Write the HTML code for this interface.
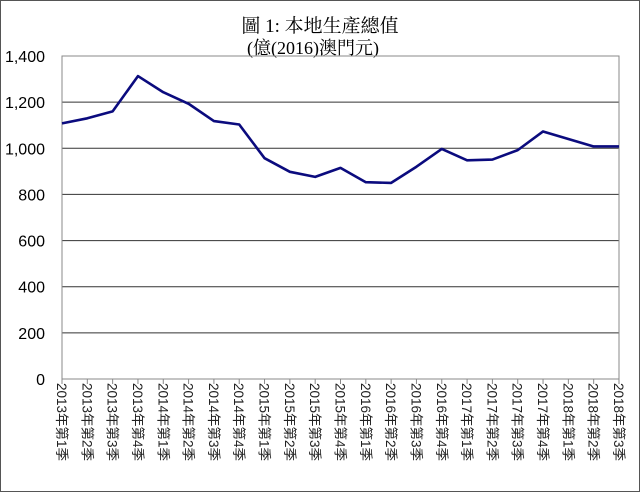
<!DOCTYPE html>
<html><head><meta charset="utf-8"><style>
html,body{margin:0;padding:0;background:#fff;}
#wrap{position:relative;width:638px;height:490px;border:1px solid #555;overflow:hidden;font-family:"Liberation Serif","Noto Serif CJK SC",serif;}
</style></head><body>
<div id="wrap">
<svg id="chart" width="638" height="490" xmlns="http://www.w3.org/2000/svg"></svg>
</div>
<script>
const categories=["2013年第1季","2013年第2季","2013年第3季","2013年第4季","2014年第1季","2014年第2季","2014年第3季","2014年第4季","2015年第1季","2015年第2季","2015年第3季","2015年第4季","2016年第1季","2016年第2季","2016年第3季","2016年第4季","2017年第1季","2017年第2季","2017年第3季","2017年第4季","2018年第1季","2018年第2季","2018年第3季"];
const gdpValues=[1108,1130,1160,1313,1243,1193,1118,1103,957,898,876,915,853,850,920,997,948,951,992,1073,1040,1008,1008];
const yTicks=[0,200,400,600,800,1000,1200,1400];
const yTickLabels=["0","200","400","600","800","1,000","1,200","1,400"];
const NS="http://www.w3.org/2000/svg";
const svg=document.getElementById('chart');
const L=61,R=618,T=55,B=378;
const x=i=>L+(R-L)*i/(categories.length-1);
const y=v=>B-(B-T)*v/1400;
function mk(t,a){const e=document.createElementNS(NS,t);for(const k in a)e.setAttribute(k,a[k]);svg.appendChild(e);return e;}
const t1=mk('text',{x:319,y:31,'text-anchor':'middle','font-size':'19'});t1.textContent='圖 1: 本地生產總值';


const t2=mk('text',{x:312,y:53,'text-anchor':'middle','font-size':'18'});t2.textContent='(億(2016)澳門元)';


yTicks.forEach((v,i)=>{
 const g=mk('line',{x1:L,x2:R,y1:y(v),y2:y(v),stroke:'#333','stroke-width':1});
 
 
 const tl=mk('text',{x:44,y:y(v)+6,'text-anchor':'end','font-size':'16','font-family':'Liberation Sans, sans-serif'});
 tl.textContent=yTickLabels[i];
 
 
});
const ax=mk('rect',{x:L,y:T,width:R-L,height:B-T,fill:'none',stroke:'#888','stroke-width':1});


categories.forEach((c,i)=>{
 const tk=mk('line',{x1:x(i),x2:x(i),y1:B,y2:B+5,stroke:'#888'});
 
 
 const lb=mk('text',{x:0,y:0,'font-size':'13.5','font-family':'Liberation Sans, Noto Sans CJK TC, sans-serif',fill:'#222',transform:`translate(${x(i)-5},${B+4}) rotate(90)`});
 lb.textContent=c;
 
 
});
const pl=mk('polyline',{points:gdpValues.map((v,i)=>x(i)+','+y(v)).join(' '),fill:'none',stroke:'#0b0b7e','stroke-width':2.6,'stroke-linejoin':'round'});


</script>
</body></html>
